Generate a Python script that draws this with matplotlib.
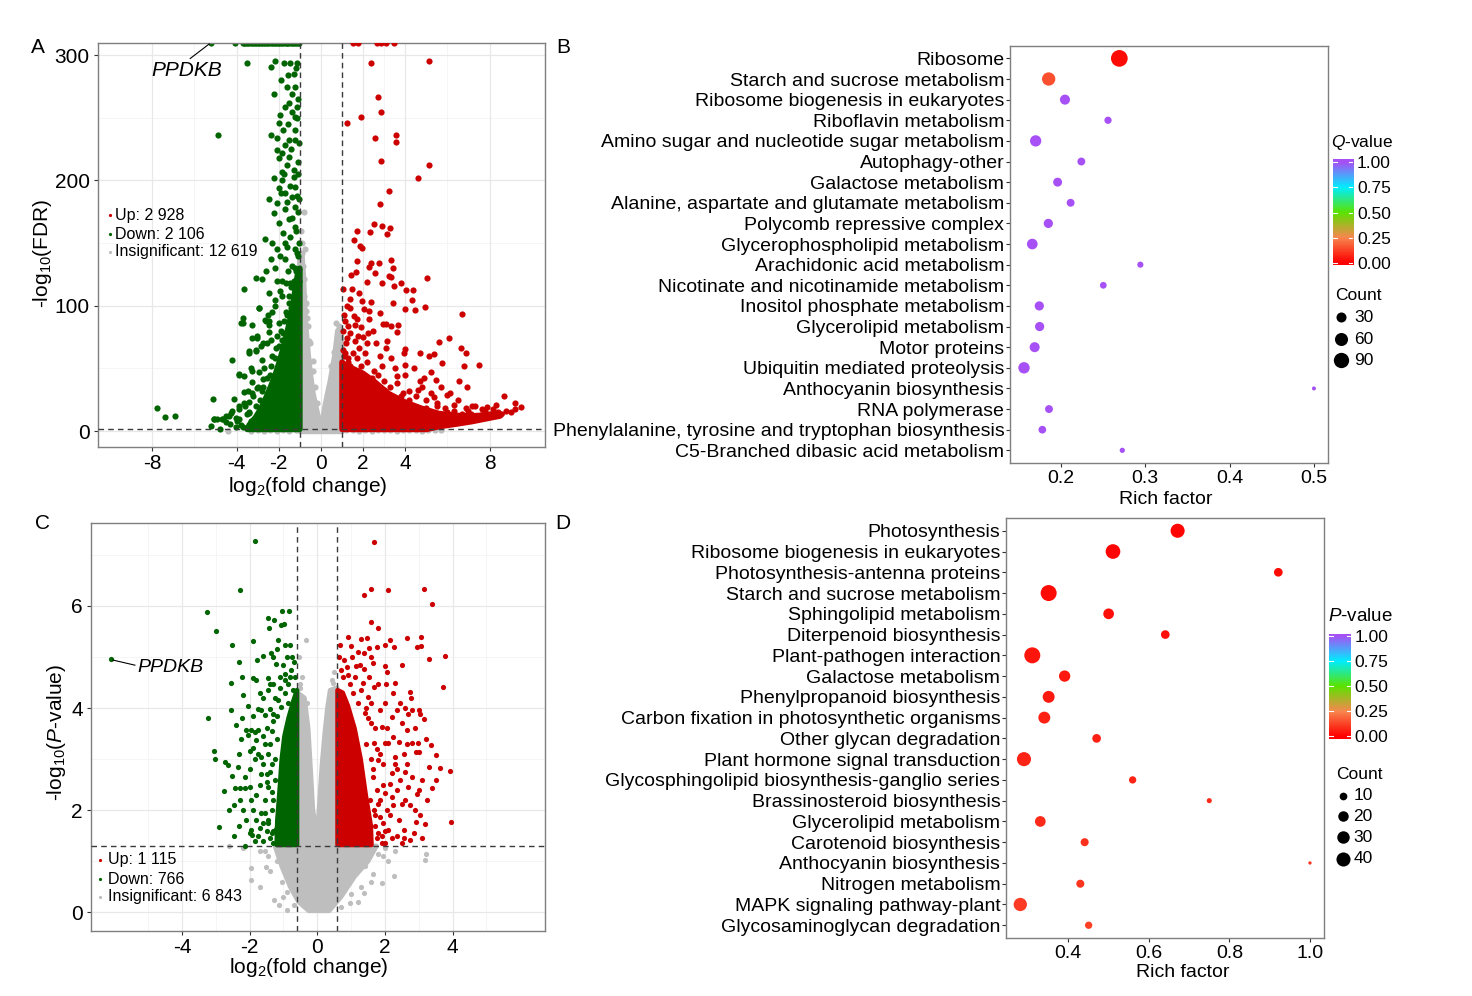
import numpy as np
import matplotlib
matplotlib.use("Agg")
import matplotlib.pyplot as plt
from matplotlib.colors import LinearSegmentedColormap
from matplotlib.patches import Polygon

plt.rcParams['font.family'] = ['Liberation Sans', 'DejaVu Sans']
plt.rcParams['mathtext.fontset'] = 'custom'
plt.rcParams['mathtext.rm'] = 'Liberation Sans'
plt.rcParams['mathtext.it'] = 'Liberation Sans:italic'
plt.rcParams['mathtext.bf'] = 'Liberation Sans:bold'
plt.rcParams['axes.unicode_minus'] = False

# ----------------------------------------------------------------- DATA
# Panel A volcano (log2FC, -log10 FDR); np.inf = FDR of 0 (drawn at panel top)
A_down_inf_x = [-5.2, -4.09, -3.72, -3.66, -3.58, -3.51, -3.44, -3.37, -3.29, -3.22, -3.15, -3.08,
                -3.0, -2.93, -2.85, -2.78, -2.71, -2.63, -2.56, -2.49, -2.41, -2.34, -2.27, -2.19,
                -2.12, -2.05, -1.97, -1.9, -1.83, -1.76, -1.68, -1.61, -1.54, -1.46, -1.39, -1.32,
                -1.24, -1.17, -1.1, -1.04]
A_up_inf_x = [1.5, 1.74, 2.68, 2.86, 3.1, 3.47]
A_down_pts = [(-3.52,294),(-2.16,295),(-1.77,294),(-1.45,294),(-1.14,294),(-2.39,291),(-1.57,284),(-2.24,269),
    (-1.61,275),(-1.22,275),(-1.38,269),(-1.69,259),(-1.22,251),(-1.14,259),(-1.92,252),(-2.00,246),(-2.39,236),
    (-2.08,234),(-1.53,232),(-1.22,232),(-2.08,224),(-1.85,222),(-2.00,218),(-1.53,219),(-1.30,208),(-1.85,207),
    (-2.24,202),(-1.85,200),(-1.30,203),(-1.22,195),(-2.00,194),(-1.69,190),(-2.47,185),(-1.38,187),(-2.08,182),
    (-1.22,179),(-1.69,177),(-2.24,174),(-1.53,169),(-2.00,166),(-1.22,163),(-2.63,153),(-2.32,150),(-1.61,147),
    (-2.08,145),(-1.22,145),(-1.69,137),(-2.39,137),(-1.38,132),(-3.10,122),(-2.78,121),(-2.08,120),(-1.45,118),
    (-2.47,110),(-1.85,108),(-3.65,113),(-2.94,98),(-2.16,100),(-1.53,102),(-3.72,90),(-3.72,86),(-3.25,85),
    (-2.63,89),(-2.00,86),(-1.38,92),(-3.02,76),(-2.47,79),(-1.85,73),(-3.41,64),(-3.10,64),(-2.78,57),(-2.32,60),
    (-4.20,57),(-2.94,47),(-3.88,45),(-3.25,39),(-3.65,31),(-2.78,32),(-5.13,25.5),(-3.41,23),(-3.88,20),
    (-7.79,18),(-7.40,11.4),(-6.90,12.2),(-5.05,10),(-4.66,9.5),(-4.35,12.2),(-4.20,16),(-4.51,7),(-5.21,4),
    (-4.87,236),(-1.1,140),(-1.2,128),(-1.3,120),(-1.15,112),(-1.25,105),(-1.4,98),(-1.1,95),(-1.6,93),(-1.75,88),
    (-1.9,80),(-2.1,76),(-1.5,80),(-1.3,85),(-1.2,160),(-1.45,155),(-1.8,158),(-1.35,170),(-1.1,175),(-1.6,183),
    (-1.9,190),(-1.15,188),(-1.45,196),(-1.75,205),(-1.6,212),(-1.1,215),(-1.4,225),(-1.7,228),(-1.25,240),
    (-1.55,245),(-1.8,240),(-1.35,255),(-1.1,265),(-1.5,262),(-1.9,280),(-1.3,285),(-1.7,150),(-1.95,140),
    (-2.2,130),(-1.55,128),(-1.85,120),(-2.3,95),(-2.55,70),(-2.7,50),(-2.4,45),(-3.0,35),(-2.9,25),(-3.2,28),
    (-3.6,20),(-3.4,15),(-3.9,10),(-4.3,6),(-3.8,5),(-2.2,105),(-1.95,112),(-1.65,118),(-2.6,128),(-4.05,3),
    (-4.8,2),(-3.3,50),(-2.85,68),(-2.45,88),(-2.15,66),(-1.05,120),(-1.05,150),(-1.05,185),(-1.05,230),
    (-1.08,205),(-1.12,250),(-1.2,290),(-3.3,8),(-3.0,12),(-2.8,18),(-2.5,25),(-2.3,33),(-2.1,42),(-1.9,52),
    (-1.75,62),(-1.6,72),(-1.45,85),(-1.3,98),(-1.2,112),(-3.7,3),(-4.0,8),(-3.5,14),(-3.1,20),(-2.75,35),
    (-2.55,42),(-2.35,52),(-2.2,58),(-2.0,68),(-1.8,78),(-1.65,95),(-1.5,108),(-1.4,115),(-1.25,130),(-1.15,142),
    (-5.07,9.8),(-4.91,9.3),(-4.67,9.8),(-4.51,12),(-4.27,14.6),(-4.12,25.2),(-3.88,45.2),(-3.64,43.8),
    (-3.25,47.8),(-3.8,86.3),(-3.25,74.4),(-3.01,74.4),(-3.4,62.4),(-3.09,65),(-2.77,70.4),(-2.53,92.9),
    (-2.45,85),(-2.37,73),(-2.93,98.3),(-2.61,87.6),(-3.88,17.3),(-3.64,22.6),(-3.48,31.9),(-3.25,30.6),
    (-3.01,34.6),(-2.77,41.2),(-4.04,10.7),(-3.4,14.6)]
A_up_pts = [(5.15,295.3),(2.38,293.8),(2.69,266.8),(2.85,254.3),(1.91,250.4),(1.22,246.2),(2.58,233.7),(3.55,236.3),
    (3.55,230.5),(2.83,215.9),(5.15,212.5),(4.60,201.9),(3.24,191.3),(2.78,181.3),(2.54,164.9),(2.88,163.6),
    (3.28,161.7),(2.35,158.8),(3.13,157),(1.69,159.5),(1.58,152.8),(1.83,147.5),(1.96,146.2),(1.71,135.6),
    (2.27,130.8),(2.38,134.3),(2.77,134.3),(3.33,136.4),(3.41,130.3),(1.45,124.4),(1.67,126.8),(2.56,126.3),
    (3.24,123.6),(3.32,123.1),(2.19,119.1),(2.91,118.3),(3.47,115.6),(3.82,117.8),(4.02,112.5),(4.38,112.5),
    (5.04,121.8),(1.05,113),(1.46,113),(1.79,109.9),(1.40,105.6),(1.96,103.8),(2.39,103),(3.44,102.2),(4.30,104.8),
    (1.36,98.4),(2.02,97.1),(2.30,95.7),(2.80,94.4),(4.00,97.1),(4.46,96.3),(4.94,99.2),(6.67,93.6),(1.09,92.3),
    (1.56,91.7),(1.72,89.6),(2.30,89.6),(2.93,85.1),(3.08,85.1),(3.32,83.8),(3.65,84.3),(1.28,83.8),(1.88,83.3),
    (2.46,79.8),(3.63,79.0),(1.78,75.9),(2.22,78.5),(1.22,74.6),(1.61,71.9),(2.17,70.6),(3.13,71.9),(6.06,74.6),
    (5.59,71.1),(6.63,66.6),(6.87,62.6),(3.99,65.8),(3.94,62.1),(4.69,62.6),(5.38,61.8),(5.15,59.9),(3.32,58.6),
    (3.99,52.5),(5.76,54.6),(6.79,51.7),(7.48,53.1),(5.24,47.2),(6.55,40.0),(6.92,35.3),(5.46,40.8),(4.91,42.7),
    (6.00,28.5),(8.69,27.7),(7.15,19.7),(7.62,17.6),(8.17,17.8),(9.22,22.3),(9.19,17.8),(9.50,18.9),(8.80,16.2),
    (7.78,15.7),(1.1,60),(1.3,55),(1.5,62),(1.2,70),(1.7,58),(1.9,52),(2.2,55),(2.5,48),(1.4,78),(1.8,66),(2.1,62),
    (2.7,45),(3.0,40),(3.3,35),(3.6,38),(2.4,42),(4.2,32),(4.5,28),(3.9,30),(5.0,25),(5.5,22),(4.8,35),(5.9,18),
    (6.3,16),(6.7,14),(7.1,14),(7.6,13),(8.0,14),(8.4,15),(5.2,30),(4.0,45),(3.5,50),(2.8,60),(1.6,85),(1.15,88),
    (1.25,100),(2.6,70),(3.1,66),(4.4,50),(4.7,40),(5.7,35),(6.1,30),(6.5,25),(7.3,20),(4.3,20),(3.8,25),(2.0,75),
    (2.9,52),(1.05,80),(1.05,65),(3.6,44),(4.6,33),(5.35,27),(6.3,21),(6.9,18),(7.9,19),(8.3,21),(9.0,15),
    (5.3,4),(5.8,7),(6.2,9),(6.8,10),(7.4,11),(8.0,12.5),(4.5,12),(3.5,20),(2.7,30),(2.2,38),(1.7,48),(1.3,58),
    (5.0,18),(4.2,25),(3.0,33),(6.0,15),(7.0,16),(1.15,62),(1.4,52),(2.4,40),(3.8,28),(5.5,20)]
A_ns_pts = [(-0.79,175),(-0.75,145),(-0.9,142),(-0.85,132),(-0.82,121),(-0.72,102),(-0.66,90),(0.72,86),(0.85,84),
    (0.9,76),(-0.5,70),(0.62,63),(-0.4,56),(0.5,52),(-0.95,160),(-0.88,150),(-3.0,0.6),(-2.7,0.3),(-2.4,0.9),
    (-2.1,0.4),(-1.8,0.8),(-1.5,0.3),(-1.2,0.7),(1.2,0.5),(1.5,0.9),(1.8,0.3),(2.1,0.8),(2.4,0.4),(2.7,1.0),
    (3.0,0.5),(3.3,0.8),(3.6,0.3),(3.9,0.9),(4.2,0.5),(4.5,0.8),(4.8,0.3),(5.1,0.7),(5.4,0.5),(5.7,1.0),
    (-3.3,0.2),(-4.4,0.1),(-0.55,72),(-0.62,84),(-0.7,96),(-0.78,108),(-0.4,48),(-0.3,35),(-0.2,22),(0.3,25),
    (0.4,35),(0.55,45),(0.7,58),(0.8,68),(0.95,80),(-0.05,4),(0.05,6)]
# outlines of the solid (overplotted) point masses
A_ns_core = [(-1.0,-0.3),(-1.0,138),(-0.9,140),(-0.85,128),(-0.8,110),(-0.75,90),(-0.68,75),(-0.6,60),(-0.5,45),
    (-0.38,30),(-0.25,20),(-0.12,10),(0.0,5),(0.1,10),(0.2,20),(0.32,30),(0.45,40),(0.55,50),(0.66,60),(0.73,70),
    (0.8,80),(0.92,82),(1.0,72),(1.0,-0.3)]
A_down_core = [(-1.0,1.3),(-1.0,130),(-1.1,126),(-1.2,116),(-1.32,102),(-1.48,88),(-1.66,75),(-1.83,64),(-1.98,55),
    (-2.15,46),(-2.35,37),(-2.6,27),(-2.85,18),(-3.1,11),(-3.4,5),(-3.5,1.3)]
A_up_core = [(1.0,1.3),(5.0,1.3),(5.6,3.5),(6.4,5.5),(7.15,7.5),(7.9,10),(8.5,12),(8.6,13.5),(8.2,13.5),(7.6,12.5),
    (7.0,12),(6.4,12.5),(5.6,14),(4.8,18),(4.0,23),(3.2,30),(2.5,40),(2.0,46),(1.5,50),(1.2,52),(1.0,55)]
A_counts = ["Up: 2 928", "Down: 2 106", "Insignificant: 12 619"]

# Panel C volcano (log2FC, -log10 P)
C_down_pts = [(-6.11,4.96),(-2.98,5.50),(-2.52,5.24),(-1.90,5.31),(-2.22,4.60),(-2.56,4.49),(-2.19,4.25),(-2.54,3.97),
    (-3.23,3.80),(-2.39,3.67),(-2.22,3.81),(-3.05,3.15),(-3.03,3.00),(-2.72,2.95),(-2.64,2.89),(-2.52,2.66),
    (-2.77,2.38),(-2.91,1.68),(-2.14,1.30),(-1.85,7.27),(-2.29,6.31),(-3.27,5.88),(-1.46,5.77),(-1.28,5.72),
    (-1.05,5.90),(-0.85,5.90),(-1.44,5.57),(-1.08,5.62),(-0.98,5.64),(-1.15,5.33),(-0.95,5.23),(-0.82,5.23),
    (-1.31,5.00),(-1.60,5.01),(-1.77,4.95),(-1.36,5.07),(-1.21,4.87),(-2.44,2.44),(-2.29,2.44),(-2.14,2.44),
    (-1.99,2.46),(-2.47,2.10),(-2.29,2.20),(-2.19,2.00),(-1.95,1.61),(-1.92,1.51),(-1.80,1.81),(-1.65,1.94),
    (-1.60,1.74),(-1.46,1.81),(-1.33,1.55),(-1.21,1.64),(-2.10,3.57),(-2.05,3.47),(-1.95,3.57),(-1.85,3.54),
    (-1.75,3.57),(-1.80,3.37),(-2.00,3.15),(-1.90,3.21),(-1.75,3.11),(-1.65,3.05),(-1.75,3.99),(-1.65,3.96),
    (-1.56,3.86),(-1.41,3.99),(-1.31,3.89),(-1.90,4.58),(-1.80,4.55),(-1.46,4.58),(-1.41,4.48),(-1.31,4.48),
    (-1.46,4.35),(-1.11,4.61),(-0.96,4.67),(-0.87,4.48),(-0.77,4.74),(-0.96,4.29),(-1.16,4.16),(-1.06,4.03),
    (-0.87,4.09),(-0.72,4.35),(-1.5,2.7),(-1.7,2.5),(-1.4,3.3),(-1.3,2.2),(-2.3,3.1),(-2.0,2.8),(-1.55,2.2),
    (-1.8,2.3),(-1.4,1.45),(-1.6,1.4),(-1.75,1.5),(-2.1,1.8),(-1.5,3.6),(-1.3,3.75),(-1.25,4.2),(-1.6,4.2),
    (-1.35,2.9),(-1.45,2.45),(-1.2,3.4),(-1.9,2.0),(-0.7,4.9),(-0.9,5.0),(-1.0,4.85),(-1.25,2.6),(-1.35,2.0),
    (-1.5,1.6),(-1.3,1.35),(-1.15,1.4),(-1.6,2.9),(-1.55,3.3),(-1.3,1.6),(-1.45,1.75),(-1.55,1.95),(-1.35,2.35),
    (-1.5,2.55),(-1.65,2.7),(-1.4,2.75),(-1.25,3.0),(-1.45,3.1),(-1.6,3.45),(-1.35,3.55),(-1.2,3.85),(-1.1,4.4),
    (-0.95,4.55),(-0.8,4.6),(-1.7,1.65),(-1.85,1.4),(-2.0,1.55),(-2.3,1.7),(-2.45,1.5),(-2.6,2.0),(-1.95,2.2),
    (-2.15,2.65),(-2.35,2.85),(-1.85,3.0),(-2.25,3.4),(-1.9,3.85),(-2.05,4.05),(-1.7,4.3),(-2.3,4.9),(-1.2,5.15),
    (-0.75,5.0),(-0.65,4.6)]
C_up_pts = [(1.69,7.25),(1.59,6.34),(1.39,6.22),(2.08,6.32),(3.14,6.33),(3.39,6.03),(1.59,5.68),(1.80,5.56),(0.68,5.24),
    (0.91,5.39),(1.01,5.21),(1.29,5.36),(1.46,5.37),(1.54,5.18),(1.99,5.23),(2.15,5.34),(2.27,5.19),(2.66,5.38),
    (3.07,5.39),(2.94,5.19),(3.07,5.21),(3.29,4.96),(3.78,5.02),(0.65,5.0),(1.65,4.89),(1.99,4.82),(2.49,4.85),
    (3.73,4.42),(2.74,4.32),(2.76,4.19),(3.37,3.27),(3.51,3.08),(3.30,2.84),(3.63,2.83),(3.93,2.77),(3.40,2.43),
    (3.96,1.77),(3.17,1.72),(2.91,1.77),(2.95,2.32),(3.02,2.39),(2.81,2.65),(2.59,2.75),(2.68,2.46),(2.66,2.90),
    (2.81,3.31),(2.97,3.31),(3.02,3.14),(2.91,3.14),(2.41,3.34),(2.25,3.44),(2.30,3.05),(2.20,2.72),(2.15,2.52),
    (2.20,2.26),(2.51,2.13),(2.15,1.90),(2.41,1.81),(2.56,1.61),(2.20,1.45),(2.51,1.35),(2.74,1.42),(1.90,1.35),
    (1.80,1.55),(2.10,1.61),(1.95,1.74),(2.00,2.33),(2.36,2.39),(1.13,4.82),(1.27,4.84),(1.39,4.77),(1.54,4.61),
    (1.80,4.47),(2.02,4.47),(1.69,4.42),(2.81,3.96),(2.69,3.88),(3.02,3.97),(3.04,3.89),(3.15,3.78),(2.66,3.57),
    (1.85,3.96),(1.49,4.22),(1.29,4.35),(0.98,4.48),(2.00,4.09),(2.20,3.83),(2.36,3.96),(1.90,3.63),(2.10,3.31),
    (1.80,2.98),(2.00,3.31),(1.69,3.31),(1.64,2.65),(1.80,2.13),(1.85,1.87),(1.69,2.00),(0.78,4.94),(0.88,4.81),
    (1.03,5.0),(1.39,5.07),(1.59,5.0),(1.5,3.8),(1.7,3.6),(1.45,3.3),(1.6,3.0),(1.75,2.4),(1.55,2.2),(1.95,2.9),
    (2.05,2.0),(1.7,1.7),(1.4,3.9),(1.2,4.1),(1.05,4.3),(0.75,4.6),(0.7,4.75),(1.6,4.1),(1.75,3.2),(2.3,2.9),
    (2.45,2.6),(2.6,2.2),(2.35,1.5),(2.9,2.0),(3.1,2.6),(2.5,3.7),(2.25,4.3),(1.75,1.45),(1.9,1.5),(2.0,1.6),
    (1.7,1.9),(1.85,2.2),(1.95,2.5),(1.65,2.8),(1.85,3.1),(2.05,3.6),(1.6,3.7),(1.45,4.0),(1.35,4.5),(1.1,4.6),
    (0.9,4.65),(2.25,2.1),(2.35,2.8),(2.55,3.1),(2.65,3.3),(2.75,2.1),(2.85,1.55),(3.05,1.9),(2.45,4.1),(2.6,4.0),
    (2.9,3.6),(3.2,3.4),(3.25,2.2),(3.5,2.6),(2.05,4.7),(2.3,4.5),(1.2,5.1),(1.75,5.2),(3.1,1.45),(2.55,1.45),
    (2.0,1.35)]
C_ns_pts = [(-0.34,5.33),(-0.54,5.0),(-0.52,4.48),(0.42,4.55),(-0.45,4.6),(0.5,4.7),(-1.28,0.25),(-1.13,0.14),
    (-1.95,0.86),(-1.95,0.63),(-1.51,0.89),(1.90,0.57),(2.10,1.0),(2.28,0.72),(3.22,1.15),(3.17,1.02),(1.80,1.15),
    (1.39,0.37),(0.98,0.18),(-2.6,1.29),(-1.7,1.2),(-1.45,1.1),(-2.2,1.25),(2.0,1.25),(2.3,1.2),(1.6,0.6),
    (-1.0,0.3),(-0.9,0.05),(1.2,0.2),(-1.7,0.5),(-1.2,1.0),(-1.4,0.8),(-1.05,0.6),(-0.9,0.4),(-0.7,0.15),
    (1.4,0.9),(1.65,0.75),(1.3,0.5),(1.0,0.35),(0.7,0.1),(-1.55,1.2),(1.95,1.1),(-0.5,4.4),(0.45,4.5),
    (-0.3,4.1),(0.35,4.2)]
C_ns_core = [(-0.585,1.3),(-0.585,4.3),(-0.38,4.2),(-0.27,3.6),(-0.19,2.7),(-0.13,2.0),(-0.04,1.65),(0.03,1.8),
    (0.08,2.3),(0.14,2.9),(0.22,3.5),(0.3,4.0),(0.38,4.35),(0.585,4.4),(0.585,1.3),(1.75,1.3),(1.5,1.0),(1.1,0.7),
    (0.7,0.3),(0.35,0.03),(-0.25,0.03),(-0.55,0.2),(-0.8,0.5),(-1.05,0.9),(-1.25,1.3)]
C_down_core = [(-0.6,1.32),(-0.6,4.35),(-0.7,4.15),(-0.85,3.8),(-0.97,3.45),(-1.05,3.0),(-1.1,2.5),(-1.18,1.8),(-1.2,1.32)]
C_up_core = [(0.6,1.32),(1.6,1.32),(1.58,1.7),(1.43,2.3),(1.28,3.0),(1.1,3.6),(0.9,4.05),(0.75,4.3),(0.6,4.35)]
C_counts = ["Up: 1 115", "Down: 766", "Insignificant: 6 843"]

# Panel B KEGG enrichment
B_terms = ["Ribosome", "Starch and sucrose metabolism", "Ribosome biogenesis in eukaryotes",
           "Riboflavin metabolism", "Amino sugar and nucleotide sugar metabolism", "Autophagy-other",
           "Galactose metabolism", "Alanine, aspartate and glutamate metabolism", "Polycomb repressive complex",
           "Glycerophospholipid metabolism", "Arachidonic acid metabolism", "Nicotinate and nicotinamide metabolism",
           "Inositol phosphate metabolism", "Glycerolipid metabolism", "Motor proteins",
           "Ubiquitin mediated proteolysis", "Anthocyanin biosynthesis", "RNA polymerase",
           "Phenylalanine, tyrosine and tryptophan biosynthesis", "C5-Branched dibasic acid metabolism"]
B_rich = [0.2695, 0.1858, 0.2051, 0.2561, 0.1704, 0.2245, 0.1964, 0.2118, 0.1854, 0.1664,
          0.2944, 0.2505, 0.1747, 0.1751, 0.1692, 0.1566, 0.5000, 0.1862, 0.1783, 0.2730]
B_count = [112, 63, 30, 13, 41, 16, 22, 16, 24, 35, 9, 11, 24, 24, 30, 42, 6, 16, 15, 7]
B_q = [0.02, 0.15, 1, 1, 1, 1, 1, 1, 1, 1, 1, 1, 1, 1, 1, 1, 1, 1, 1, 1]

# Panel D KEGG enrichment
D_terms = ["Photosynthesis", "Ribosome biogenesis in eukaryotes", "Photosynthesis-antenna proteins",
           "Starch and sucrose metabolism", "Sphingolipid metabolism", "Diterpenoid biosynthesis",
           "Plant-pathogen interaction", "Galactose metabolism", "Phenylpropanoid biosynthesis",
           "Carbon fixation in photosynthetic organisms", "Other glycan degradation",
           "Plant hormone signal transduction", "Glycosphingolipid biosynthesis-ganglio series",
           "Brassinosteroid biosynthesis", "Glycerolipid metabolism", "Carotenoid biosynthesis",
           "Anthocyanin biosynthesis", "Nitrogen metabolism", "MAPK signaling pathway-plant",
           "Glycosaminoglycan degradation"]
D_rich = [0.6714, 0.5109, 0.9214, 0.3512, 0.5001, 0.6408, 0.3106, 0.3909, 0.3512, 0.3404,
          0.4703, 0.2899, 0.5597, 0.7500, 0.3305, 0.4406, 1.0000, 0.4298, 0.2808, 0.4505]
D_count = [40, 44, 13, 54, 21, 13, 54, 24, 27, 27, 13, 40, 9, 5, 21, 11, 4, 11, 35, 9]
D_p = [0.01, 0.01, 0.02, 0.02, 0.03, 0.03, 0.04, 0.05, 0.05, 0.06, 0.06, 0.07, 0.07, 0.08, 0.08,
       0.09, 0.10, 0.10, 0.11, 0.12]

# ----------------------------------------------------------------- STYLE
W, H = 1472, 996
fig = plt.figure(figsize=(W / 100, H / 100), dpi=100)
GREEN, RED, GREY = '#006400', '#CD0000', '#BEBEBE'
CMAP = LinearSegmentedColormap.from_list('qv', [(0, '#FF0000'), (0.25, '#F7874F'), (0.5, '#5BE300'),
                                               (0.75, '#00EEFF'), (1, '#A650F5')])
PT = 0.72  # points per pixel


def px_axes(l, t, r, b, **kw):
    return fig.add_axes([l / W, 1 - b / H, (r - l) / W, (b - t) / H], **kw)


def style_frame(ax, labelsize):
    for sp in ax.spines.values():
        sp.set_color('#7F7F7F')
        sp.set_linewidth(1.0)
    ax.tick_params(direction='out', length=2.6, width=0.8, color='#333333',
                   labelsize=labelsize, labelcolor='black')


def volcano(ax, ns_pts, down_pts, up_pts, ns_core, down_core, up_core, down_inf, up_inf,
            xlim, ylim, xticks, yticks, xminor, yminor, fc_cut, p_cut, dot_px):
    ax.set_xlim(xlim)
    ax.set_ylim(ylim)
    for v in xminor:
        ax.axvline(v, color='#F4F4F4', lw=0.6, zorder=0)
    for v in yminor:
        ax.axhline(v, color='#F4F4F4', lw=0.6, zorder=0)
    for v in xticks:
        ax.axvline(v, color='#E8E8E8', lw=0.9, zorder=0)
    for v in yticks:
        ax.axhline(v, color='#E8E8E8', lw=0.9, zorder=0)
    d_pt = dot_px * PT
    z = 1
    for core, pts, inf_x, col in [(ns_core, ns_pts, [], GREY), (down_core, down_pts, down_inf, GREEN),
                                  (up_core, up_pts, up_inf, RED)]:
        ax.add_patch(Polygon(core, closed=True, fc=col, ec=col, lw=d_pt * 0.9, joinstyle='round', zorder=z))
        xs = [p[0] for p in pts] + list(inf_x)
        ys = [p[1] for p in pts] + [np.inf] * len(inf_x)
        ys = np.where(np.isinf(ys), ylim[1], ys)
        ax.scatter(xs, ys, s=d_pt ** 2, c=col, linewidths=0, zorder=z + 0.5)
        z += 1
    ax.axvline(-fc_cut, color='#3A3A3A', lw=1.0, ls=(0, (4, 3)), zorder=6)
    ax.axvline(fc_cut, color='#3A3A3A', lw=1.0, ls=(0, (4, 3)), zorder=6)
    ax.axhline(p_cut, color='#3A3A3A', lw=1.0, ls=(0, (4, 3)), zorder=6)
    ax.set_xticks(xticks)
    ax.set_yticks(yticks)
    ax.set_xticklabels([str(v) for v in xticks])
    ax.set_yticklabels([str(v) for v in yticks])
    style_frame(ax, 15)
    ax.tick_params(pad=3)


def volcano_legend(ax, labels, xd, xt, ys, fs):
    for lab, col, y in zip(labels, [RED, GREEN, GREY], ys):
        ax.scatter([xd], [y], s=(3.2 * PT) ** 2, c=col, linewidths=0, transform=ax.transAxes,
                   clip_on=False, zorder=8)
        ax.text(xt, y, lab, transform=ax.transAxes, fontsize=fs, va='center', ha='left', zorder=8)


def bubble(ax, terms, rich, counts, cvals, xlim, xticks, dmin, drange):
    n = len(terms)
    y = np.arange(1, n + 1)
    c = np.array(counts, float)
    d = dmin + drange * np.sqrt((c - c.min()) / (c.max() - c.min()))
    ax.scatter(rich, y, s=(d * PT) ** 2, c=cvals, cmap=CMAP, vmin=0, vmax=1, linewidths=0, zorder=3)
    ax.set_ylim(n + 0.6, 0.4)
    ax.set_yticks(y)
    ax.set_yticklabels(terms)
    ax.set_xlim(xlim)
    ax.set_xticks(xticks)
    ax.set_xticklabels(['%.1f' % v for v in xticks])
    style_frame(ax, 14)
    ax.tick_params(axis='y', pad=1.5)
    ax.tick_params(axis='x', pad=2.5)
    return c.min(), c.max()


def colorbar(l, t, r, b, ylo, yhi):
    cax = px_axes(l, t, r, b)
    grad = np.linspace(ylo, yhi, 300).reshape(-1, 1)
    cax.imshow(np.clip(grad, 0, 1), cmap=CMAP, vmin=0, vmax=1, aspect='auto', origin='lower',
               extent=[0, 1, ylo, yhi])
    cax.set_xlim(0, 1)
    cax.set_ylim(ylo, yhi)
    cax.set_xticks([])
    ticks = [0, 0.25, 0.5, 0.75, 1.0]
    cax.yaxis.tick_right()
    cax.set_yticks(ticks)
    cax.set_yticklabels(['%.2f' % v for v in ticks])
    cax.tick_params(axis='y', length=0, pad=2.7, labelsize=12.5)
    for sp in cax.spines.values():
        sp.set_visible(False)
    for v in ticks:
        cax.plot([0, 0.2], [v, v], color='white', lw=0.8)
        cax.plot([0.8, 1], [v, v], color='white', lw=0.8)


# ----------------------------------------------------------------- PANEL A
axA = px_axes(97.5, 42.7, 545, 446.7)
volcano(axA, A_ns_pts, A_down_pts, A_up_pts, A_ns_core, A_down_core, A_up_core, A_down_inf_x, A_up_inf_x,
        (-10.6, 10.63), (-12.5, 310), [-8, -4, -2, 0, 2, 4, 8], [0, 100, 200, 300],
        [-6, -3, -1, 1, 3, 6], [50, 150, 250], 1.0, 1.3, 6.2)
axA.text(0.469, -0.0997, r'log$_2$(fold change)', transform=axA.transAxes, ha='center', va='center', fontsize=15)
axA.text(-0.124, 0.479, r'-log$_{10}$(FDR)', transform=axA.transAxes, ha='center', va='center',
         rotation=90, fontsize=15)
axA.plot([-5.3, -6.2], [309, 297.4], color='black', lw=0.8, zorder=7, clip_on=False)
axA.text(-6.36, 287.5, 'PPDKB', style='italic', fontsize=15, ha='center', va='center', zorder=7)
volcano_legend(axA, A_counts, 0.028, 0.040, [0.5735, 0.526, 0.482], 11.5)

# ----------------------------------------------------------------- PANEL C
axC = px_axes(90.6, 522.7, 545, 930.7)
volcano(axC, C_ns_pts, C_down_pts, C_up_pts, C_ns_core, C_down_core, C_up_core, [], [],
        (-6.7, 6.73), (-0.36, 7.63), [-4, -2, 0, 2, 4], [0, 2, 4, 6],
        [-5, -3, -1, 1, 3, 5], [1, 3, 5, 7], 0.585, 1.3, 5.2)
axC.text(0.48, -0.091, r'log$_2$(fold change)', transform=axC.transAxes, ha='center', va='center', fontsize=15)
axC.text(-0.076, 0.485, r'-log$_{10}$($\mathit{P}$-value)', transform=axC.transAxes, ha='center',
         va='center', rotation=90, fontsize=15)
axC.plot([-6.04, -5.39], [4.94, 4.84], color='black', lw=0.8, zorder=7)
axC.text(-5.33, 4.8, 'PPDKB', style='italic', fontsize=14, ha='left', va='center', zorder=7)
volcano_legend(axC, C_counts, 0.0213, 0.0387, [0.1733, 0.126, 0.0833], 11.5)

# ----------------------------------------------------------------- PANEL B
axB = px_axes(1010, 46, 1328.3, 462.7)
B_lim = bubble(axB, B_terms, B_rich, B_count, B_q, (0.140, 0.517), [0.2, 0.3, 0.4, 0.5], 4.0, 12.7)
axB.text(0.49, -0.0895, 'Rich factor', transform=axB.transAxes, ha='center', va='center', fontsize=14)
colorbar(1332.7, 159.3, 1353.3, 265, -0.023, 1.03)

# ----------------------------------------------------------------- PANEL D
axD = px_axes(1006, 518.3, 1324.3, 937.7)
D_lim = bubble(axD, D_terms, D_rich, D_count, D_p, (0.2453, 1.0356), [0.4, 0.6, 0.8, 1.0], 3.3, 12.7)
axD.text(0.556, -0.084, 'Rich factor', transform=axD.transAxes, ha='center', va='center', fontsize=14)
colorbar(1329, 633.5, 1351, 738.8, -0.023, 1.025)

# ----------------------------------------------------------------- OVERLAY (legends, panel letters)
ov = fig.add_axes([0, 0, 1, 1], zorder=10)
ov.set_xlim(0, W)
ov.set_ylim(H, 0)
ov.axis('off')
ov.patch.set_alpha(0)
for lab, x, y in [('A', 38, 47), ('B', 563, 47), ('C', 42, 523), ('D', 563, 523)]:
    ov.text(x, y, lab, fontsize=15, ha='center', va='center')

ov.text(1331, 142, r'$\mathit{Q}$-value', fontsize=12.5, ha='left', va='center')
ov.text(1335, 295, 'Count', fontsize=12.5, ha='left', va='center')
for cnt, y in zip([30, 60, 90], [317.3, 339, 360]):
    d = 4.0 + 12.7 * np.sqrt((cnt - B_lim[0]) / (B_lim[1] - B_lim[0]))
    ov.scatter([1341], [y], s=(d * PT) ** 2, c='black', linewidths=0)
    ov.text(1354, y, str(cnt), fontsize=12.5, ha='left', va='center')

ov.text(1327.7, 616, r'$\mathit{P}$-value', fontsize=13.5, ha='left', va='center')
ov.text(1336, 774, 'Count', fontsize=12.5, ha='left', va='center')
for cnt, y in zip([10, 20, 30, 40], [795.7, 816, 837.3, 858.7]):
    d = 3.3 + 12.7 * np.sqrt((cnt - D_lim[0]) / (D_lim[1] - D_lim[0]))
    ov.scatter([1342.7], [y], s=(d * PT) ** 2, c='black', linewidths=0)
    ov.text(1353.3, y, str(cnt), fontsize=12.5, ha='left', va='center')

fig.savefig('out.png', dpi=100)
